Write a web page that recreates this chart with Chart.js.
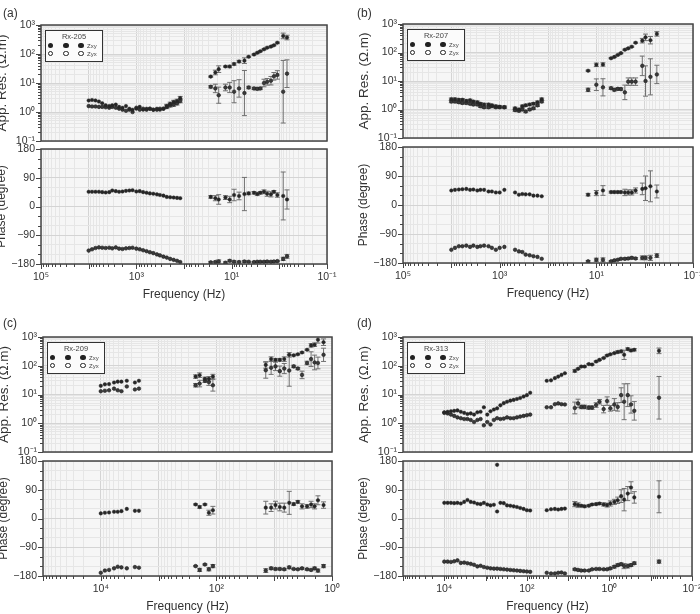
<!DOCTYPE html>
<html lang="en">
<head>
<meta charset="UTF-8">
<title>MT sounding curves Rx-205 / 207 / 209 / 313</title>
<script src="https://cdn.jsdelivr.net/npm/chart.js"></script>
<style>
  body { margin: 0; background: #fff; font-family: "Liberation Sans", Arial, sans-serif; }
  #fig { position: relative; width: 700px; height: 614px; overflow: hidden; }
  #fig canvas { position: absolute; }
  .tag { position: absolute; font-size: 12px; color: #333; }
  .legend { position: absolute; width: 58px; height: 32px; box-sizing: border-box;
            border: 1.5px solid #333; background: #fbfbfb; color: #444; }
  .legend .t { position: absolute; left: 0; right: 0; top: 1px; text-align: center; font-size: 7.5px; line-height: 9px; }
  .legend .d { position: absolute; width: 5.5px; height: 5.5px; border-radius: 50%; box-sizing: border-box; }
  .legend .f { background: #222; }
  .legend .o { border: 1.2px solid #222; background: #fff; }
  .legend .z { position: absolute; left: 41px; font-size: 6px; line-height: 6px; }
</style>
</head>
<body>
<div id="fig"></div>
<script>
// ---- axis labels ----
const rhoDecades = [-1, 0, 1, 2, 3];
const phaseTicks = [-180, -150, -120, -90, -60, -30, 0, 30, 60, 90, 120, 150, 180];
const phaseLabelTicks = [-180, -90, 0, 90, 180];
const xExpAB = [5, 3, 1, -1];
const xExpCD = [4, 2, 0, -2];
const stations = ['Rx-205', 'Rx-207', 'Rx-209', 'Rx-313'];

// ---- (a) Rx-205 ----
const freqA = [10000, 8500, 7200, 6100, 5200, 4400, 3700, 3200, 2700, 2300, 1950, 1650, 1400, 1200, 1000, 850, 720, 610, 520, 440, 370, 320, 270, 230, 195, 165, 140, 120,
  27.5, 22, 18.7, 13.5, 11, 8.9, 7, 5.4, 4.4, 3.4, 2.9, 2.5, 2.1, 1.8, 1.5, 1.3, 1.1, 0.83, 0.69];
const rhoXyA = [2.5, 2.6, 2.5, 2.3, 2.0, 1.7, 1.6, 1.7, 1.8, 1.5, 1.4, 1.6, 1.3, 1.2, 1.3, 1.5, 1.2, 1.3, 1.3, 1.2, 1.3, 1.2, 1.3, 1.6, 1.9, 2.2, 2.4, 3.0,
  16.6, 23, 30, 37, 37, 45, 55, 59, 80, 96, 110, 125, 145, 165, 180, 200, 245, 420, 370];
const rhoXyErrA = [0, 0, 0, 0, 0, 0, 0, 0, 0, 0, 0, 0, 0, 0, 0, 0, 0, 0, 0, 0, 0, 0, 0, 1.15, 1.15, 1.15, 1.15, 1.15,
  1.05, 1.2, 1.3, 1.05, 1.1, 1.1, 1.1, 1.25, 1.05, 1.05, 1.05, 1.05, 1.05, 1.05, 1.05, 1.05, 1.05, 1.25, 1.2];
const rhoYxA = [1.6, 1.55, 1.55, 1.5, 1.5, 1.45, 1.4, 1.5, 1.4, 1.3, 1.2, 1.1, 1.2, 1.0, 1.4, 1.2, 1.3, 1.2, 1.3, 1.2, 1.2, 1.3, 1.3, 1.5, 1.7, 1.8, 2.0, 2.4,
  7.4, 6.5, 3.8, 7, 7, 5, 6.5, 4.5, 7, 6.5, 6.3, 6.5, 10, 11, 12, 17, 19, 5, 21];
const rhoYxErrA = [0, 0, 0, 0, 0, 0, 0, 0, 0, 0, 0, 0, 0, 0, 0, 0, 0, 0, 0, 0, 0, 0, 0, 1.15, 1.15, 1.15, 1.15, 1.15,
  1.1, 1.4, 1.9, 1.3, 1.5, 2.4, 2.0, 6.0, 1.1, 1.1, 1.1, 1.1, 1.35, 1.3, 1.4, 1.35, 1.4, 12, 3.0];
const phsXyA = [46, 46, 46, 46, 45, 44, 45, 50, 48, 46, 47, 49, 50, 51, 47, 48, 45, 43, 41, 40, 38, 36, 34, 30, 29, 28, 27, 26,
  30, 26, 22, 28, 22, 36, 33, 39, 41, 43, 39, 43, 46, 40, 38, 46, 36, 33, 22];
const phsXyErrA = [0, 0, 0, 0, 0, 0, 0, 0, 0, 0, 0, 0, 0, 0, 0, 0, 0, 0, 0, 0, 0, 0, 0, 0, 0, 0, 0, 0,
  4, 8, 15, 6, 10, 18, 12, 52, 4, 4, 4, 4, 6, 8, 8, 4, 7, 75, 30];
const phsYxA = [-138, -134, -130, -128, -129, -130, -129, -131, -128, -132, -133, -131, -130, -129, -132, -134, -137, -140, -143, -146, -150, -153, -157, -160, -164, -167, -170, -174,
  -175, -174, -172, -176, -170, -173, -174, -172, -173, -174, -173, -173, -173, -172, -173, -172, -171, -164, -156];
const phsYxErrA = [0, 0, 0, 0, 0, 0, 0, 0, 0, 0, 0, 0, 0, 0, 0, 0, 0, 0, 0, 0, 0, 0, 0, 0, 0, 0, 0, 0,
  3, 3, 5, 3, 3, 3, 3, 3, 2, 2, 2, 2, 2, 2, 2, 2, 2, 5, 6];

// ---- (b) Rx-207 ----
const freqB = [10000, 8400, 7000, 5900, 4900, 4100, 3500, 2900, 2500, 2100, 1700, 1450, 1200, 1000, 800, 480, 400, 340, 290, 240, 200, 165, 135,
  14.8, 10, 7.3, 4.96, 4.24, 3.6, 3.1, 2.57, 2.19, 1.85, 1.54, 1.12, 0.96, 0.76, 0.56];
const rhoXyB = [2.3, 2.3, 2.2, 2.2, 2.0, 2.1, 1.9, 1.8, 1.6, 1.5, 1.5, 1.4, 1.3, 1.25, 1.2, 1.1, 1.0, 1.3, 1.4, 1.5, 1.6, 1.8, 2.3,
  23, 37, 38, 63, 70, 82, 95, 125, 140, 160, 220, 260, 340, 270, 450];
const rhoXyErrB = [1.1, 1.1, 1.1, 1.1, 1.1, 1.1, 1.1, 1.1, 1.1, 1.1, 1.1, 1.1, 1.1, 1.1, 1.1, 1.1, 1.1, 1.1, 1.1, 1.1, 1.1, 1.1, 1.1,
  1.05, 1.15, 1.15, 1.05, 1.05, 1.05, 1.05, 1.05, 1.05, 1.05, 1.05, 1.2, 1.3, 1.35, 1.2];
const rhoYxB = [1.9, 1.9, 1.8, 1.7, 1.7, 1.6, 1.5, 1.5, 1.3, 1.2, 1.2, 1.3, 1.2, 1.2, 1.2, 0.95, 0.9, 1.0, 0.85, 1.0, 1.1, 1.4, 1.9,
  4.9, 7.4, 6, 5.6, 4.9, 5.3, 5.2, 4.0, 9.5, 9.5, 9.5, 34, 10, 14, 17];
const rhoYxErrB = [1.1, 1.1, 1.1, 1.1, 1.1, 1.1, 1.1, 1.1, 1.1, 1.1, 1.1, 1.1, 1.1, 1.1, 1.1, 1.1, 1.1, 1.1, 1.1, 1.1, 1.1, 1.1, 1.1,
  1.15, 1.6, 2.0, 1.1, 1.1, 1.1, 1.1, 1.8, 1.35, 1.35, 1.35, 2.2, 3.4, 4.3, 2.1];
const phsXyB = [45, 47, 48, 49, 50, 47, 48, 45, 47, 47, 42, 42, 39, 39, 47, 39, 32, 34, 33, 33, 29, 29, 27,
  32, 37, 45, 40, 40, 40, 40, 39, 39, 39, 45, 50, 52, 58, 42];
const phsXyErrB = [0, 0, 0, 0, 0, 0, 0, 0, 0, 0, 0, 0, 0, 0, 0, 0, 0, 0, 0, 0, 0, 0, 0,
  4, 8, 15, 3, 3, 3, 3, 10, 8, 8, 8, 18, 38, 48, 20];
const phsYxB = [-139, -133, -128, -128, -126, -130, -126, -130, -128, -126, -128, -133, -139, -133, -130, -139, -144, -146, -154, -156, -159, -161, -167,
  -175, -170, -170, -175, -172, -170, -167, -167, -166, -164, -166, -164, -164, -164, -157];
const phsYxErrB = [0, 0, 0, 0, 0, 0, 0, 0, 0, 0, 0, 0, 0, 0, 0, 0, 0, 0, 0, 0, 0, 0, 0,
  3, 5, 6, 2, 2, 2, 2, 3, 3, 3, 3, 6, 6, 8, 6];

// ---- (c) Rx-209 ----
const freqC = [10000, 8500, 7200, 5900, 5100, 4400, 3550, 2570, 2190,
  229, 195, 158, 135, 115,
  14, 11.3, 9.5, 8, 6.7, 5.5, 4.6, 3.9, 3.3, 2.7, 2.3, 2.0, 1.75, 1.4];
const rhoXyC = [20, 22.5, 23, 26, 28, 28, 30, 26, 30,
  42, 47, 35, 35, 42,
  107, 170, 160, 160, 170, 240, 230, 250, 290, 360, 510, 540, 800, 660];
const rhoXyErrC = [0, 0, 0, 0, 0, 0, 0, 0, 0,
  1.15, 1.2, 1.15, 1.2, 1.2,
  1.3, 1.2, 1.1, 1.1, 1.2, 1.2, 1.05, 1.05, 1.05, 1.05, 1.15, 1.15, 1.3, 1.3];
const rhoYxC = [13, 13.5, 14, 16, 14, 13, 19, 15, 16,
  21, 24, 30, 27, 21,
  70, 85, 95, 65, 80, 68, 95, 80, 48, 125, 170, 130, 125, 240];
const rhoYxErrC = [0, 0, 0, 0, 0, 0, 0, 0, 0,
  1.15, 1.3, 1.15, 1.3, 1.6,
  1.9, 1.7, 1.4, 1.5, 1.5, 3.5, 1.1, 1.1, 1.35, 1.15, 1.8, 1.8, 1.6, 1.7];
const phsXyC = [16, 18, 19, 21, 21, 23, 30, 24, 24,
  44, 36, 44, 18, 26,
  34, 34, 42, 36, 34, 49, 45, 52, 38, 38, 44, 38, 57, 42];
const phsXyErrC = [0, 0, 0, 0, 0, 0, 0, 0, 0,
  2, 4, 2, 8, 12,
  20, 12, 12, 12, 14, 36, 4, 4, 8, 6, 10, 8, 14, 10];
const phsYxC = [-170, -163, -161, -156, -151, -153, -156, -152, -154,
  -149, -161, -144, -159, -149,
  -163, -156, -158, -158, -159, -153, -158, -159, -156, -159, -161, -156, -163, -149];
const phsYxErrC = [0, 0, 0, 0, 0, 0, 0, 0, 0,
  2, 5, 2, 5, 5,
  6, 4, 3, 3, 3, 4, 2, 2, 3, 3, 3, 4, 5, 5];

// ---- (d) Rx-313 ----
const freqD = [10000, 8300, 6900, 5750, 4800, 3980, 3300, 2750, 2290, 1900, 1580, 1320, 1100, 910, 760, 630, 525, 437, 363, 302, 251, 209, 174, 145, 120, 100, 83,
  33, 26, 21, 17.4, 14.5, 12,
  6.9, 5.75, 4.8, 4.0, 3.16, 2.63, 2.1, 1.74, 1.38, 1.14, 0.95, 0.76, 0.63, 0.52, 0.44, 0.36, 0.30, 0.25,
  0.063];
const rhoXyD = [2.4, 2.5, 2.6, 2.7, 2.8, 2.5, 2.3, 2.1, 2.2, 2.0, 2.4, 2.5, 3.6, 2.0, 2.6, 3.0, 3.3, 4.2, 5.0, 5.6, 6.1, 6.5, 7.0, 7.6, 8.5, 9.5, 11.5,
  30, 31, 37, 42, 48, 55,
  66, 78, 94, 94, 114, 110, 140, 160, 185, 228, 250, 275, 300, 315, 240, 380, 340, 360,
  330];
const rhoXyErrD = [0, 0, 0, 0, 0, 0, 0, 0, 0, 0, 0, 0, 0, 0, 0, 0, 0, 0, 0, 0, 0, 0, 0, 0, 0, 0, 0,
  0, 0, 0, 0, 0, 0,
  1.1, 1.05, 1.05, 1.05, 1.05, 1.05, 1.05, 1.05, 1.05, 1.05, 1.05, 1.05, 1.1, 1.1, 1.45, 1.1, 1.1, 1.1,
  1.25];
const rhoYxD = [2.3, 2.2, 2.0, 1.8, 1.6, 1.5, 1.4, 1.4, 1.3, 1.1, 1.3, 1.4, 0.85, 1.1, 0.9, 1.3, 1.5, 1.4, 1.45, 1.6, 1.5, 1.5, 1.6, 1.7, 1.8, 1.9, 2.0,
  3.6, 3.6, 4.6, 4.9, 4.6, 4.5,
  3.4, 4.9, 3.7, 3.7, 3.5, 3.5, 4.3, 5.6, 3.1, 5.9, 3.3, 4.5, 3.7, 9.5, 5.6, 9.5, 4.5, 2.7,
  7.7];
const rhoYxErrD = [0, 0, 0, 0, 0, 0, 0, 0, 0, 0, 0, 0, 0, 0, 0, 0, 0, 0, 0, 0, 0, 0, 0, 0, 0, 0, 0,
  0, 0, 0, 0, 0, 0,
  1.6, 1.4, 1.15, 1.15, 1.15, 1.15, 1.2, 1.2, 1.35, 1.4, 1.25, 1.6, 1.4, 1.8, 4.2, 2.5, 2.0, 2.1,
  5.5];
const phsXyD = [49, 49, 49, 48, 49, 47, 52, 58, 52, 50, 46, 45, 49, 44, 41, 43, 22, 49, 48, 41, 40, 38, 36, 33, 30, 26, 25,
  26, 29, 30, 28, 30, 31,
  45, 42, 40, 38, 40, 44, 45, 47, 44, 42, 47, 52, 57, 70, 59, 78, 97, 66,
  68];
const phsXyErrD = [0, 0, 0, 0, 0, 0, 0, 0, 0, 0, 0, 0, 0, 0, 0, 0, 0, 0, 0, 0, 0, 0, 0, 0, 0, 0, 0,
  0, 0, 0, 0, 0, 0,
  8, 7, 3, 3, 3, 3, 3, 3, 5, 6, 8, 8, 10, 20, 35, 22, 18, 18,
  50];
const phsYxD = [-135, -135, -136, -134, -131, -139, -138, -140, -142, -145, -150, -148, -152, -154, -156, -157, -157, -158, -159, -160, -161, -162, -163, -164, -165, -166, -167,
  -170, -172, -172, -170, -169, -172,
  -159, -161, -163, -163, -163, -159, -158, -158, -159, -159, -156, -151, -146, -143, -149, -149, -146, -140,
  -135];
const phsYxErrD = [0, 0, 0, 0, 0, 0, 0, 0, 0, 0, 0, 0, 0, 0, 0, 0, 0, 0, 0, 0, 0, 0, 0, 0, 0, 0, 0,
  0, 0, 0, 0, 0, 0,
  3, 3, 2, 2, 2, 2, 2, 2, 2, 2, 3, 4, 4, 4, 8, 6, 4, 4,
  5];
// stray phase value in (d)
const outFreqD = [525];
const outPhsD = [168];

// ---- styling ----
Chart.defaults.font.family = '"Liberation Sans", Arial, sans-serif';
const PLOT_BG = '#f6f6f6';
const GRID_MAJOR = '#d4d4d4';
const GRID_MINOR = '#e6e6e6';
const FRAME = '#454545';
const TEXT = '#333';

const SUP = { '-': '\u207B', '0': '\u2070', '1': '\u00B9', '2': '\u00B2', '3': '\u00B3', '4': '\u2074', '5': '\u2075' };
const pow10 = e => '10' + String(e).split('').map(c => SUP[c]).join('');
const expOf = v => Math.round(Math.log10(v));
const isDecade = v => Math.abs(Math.log10(v) - expOf(v)) < 1e-6;

function logTicks(min, max) {
  const out = [];
  for (let e = expOf(min); e <= expOf(max); e++) {
    for (let d = 1; d <= 9; d++) {
      const v = d * Math.pow(10, e);
      if (v >= min * 0.999 && v <= max * 1.001) out.push({ value: v });
    }
  }
  return out;
}

const pts = (f, v) => f.map((x, i) => ({ x: x, y: v[i] }));
const rhoBars = (v, e) => v.map((y, i) => e[i] > 1 ? [y / e[i], y * e[i]] : null);
const phsBars = (v, e) => v.map((y, i) => e[i] > 0 ? [y - e[i], y + e[i]] : null);

// plot background, frame and outward tick marks
const axisMarks = {
  id: 'axisMarks',
  beforeDraw(chart) {
    const a = chart.chartArea, ctx = chart.ctx;
    ctx.save();
    ctx.fillStyle = PLOT_BG;
    ctx.fillRect(a.left, a.top, a.right - a.left, a.bottom - a.top);
    ctx.restore();
  },
  afterDraw(chart, args, opts) {
    const a = chart.chartArea, ctx = chart.ctx;
    const ys = chart.scales.y, xs = chart.scales.x;
    ctx.save();
    ctx.strokeStyle = FRAME;
    ctx.lineWidth = 1;
    ctx.beginPath();
    ys.ticks.forEach(t => {
      const p = Math.round(ys.getPixelForValue(t.value)) + 0.5;
      const len = opts.phase ? (t.value % 90 === 0 ? 5 : 3) : (isDecade(t.value) ? 5 : 3);
      ctx.moveTo(a.left - len, p);
      ctx.lineTo(a.left, p);
    });
    if (opts.phase) {
      xs.ticks.forEach(t => {
        const p = Math.round(xs.getPixelForValue(t.value)) + 0.5;
        const len = isDecade(t.value) ? 5 : 3;
        ctx.moveTo(p, a.bottom);
        ctx.lineTo(p, a.bottom + len);
      });
    }
    ctx.stroke();
    ctx.lineWidth = 1.5;
    ctx.strokeRect(a.left, a.top, a.right - a.left, a.bottom - a.top);
    ctx.restore();
  }
};

// vertical error bars with caps
const errorBars = {
  id: 'errorBars',
  beforeDatasetsDraw(chart) {
    const a = chart.chartArea, ctx = chart.ctx;
    const xs = chart.scales.x, ys = chart.scales.y;
    ctx.save();
    ctx.beginPath();
    ctx.rect(a.left, a.top, a.right - a.left, a.bottom - a.top);
    ctx.clip();
    ctx.strokeStyle = '#707070';
    ctx.lineWidth = 1;
    chart.data.datasets.forEach(ds => {
      if (!ds.bars) return;
      ds.bars.forEach((b, i) => {
        if (!b) return;
        const px = xs.getPixelForValue(ds.data[i].x);
        const y1 = ys.getPixelForValue(b[0]), y2 = ys.getPixelForValue(b[1]);
        ctx.beginPath();
        ctx.moveTo(px, y1); ctx.lineTo(px, y2);
        ctx.moveTo(px - 2.5, y1); ctx.lineTo(px + 2.5, y1);
        ctx.moveTo(px - 2.5, y2); ctx.lineTo(px + 2.5, y2);
        ctx.stroke();
      });
    });
    ctx.restore();
  }
};

const xyStyle = { pointRadius: 1.8, pointBackgroundColor: '#262626', pointBorderColor: '#262626', pointBorderWidth: 0.4 };
const yxStyle = { pointRadius: 1.8, pointBackgroundColor: '#3a3a3a', pointBorderColor: '#1a1a1a', pointBorderWidth: 0.6 };

const panels = [
  { tag: '(a)', tagX: 3, tagY: 6, x0: 41, x1: 327, r0: 25, r1: 141, p0: 149, p1: 264, xMin: 0.1, xMax: 1e5, xExp: xExpAB,
    f: freqA, rxy: rhoXyA, rxyE: rhoXyErrA, ryx: rhoYxA, ryxE: rhoYxErrA, pxy: phsXyA, pxyE: phsXyErrA, pyx: phsYxA, pyxE: phsYxErrA },
  { tag: '(b)', tagX: 357, tagY: 6, x0: 403, x1: 693, r0: 24, r1: 138, p0: 147, p1: 263, xMin: 0.1, xMax: 1e5, xExp: xExpAB,
    f: freqB, rxy: rhoXyB, rxyE: rhoXyErrB, ryx: rhoYxB, ryxE: rhoYxErrB, pxy: phsXyB, pxyE: phsXyErrB, pyx: phsYxB, pyxE: phsYxErrB },
  { tag: '(c)', tagX: 3, tagY: 316, x0: 43, x1: 332, r0: 337, r1: 452, p0: 461, p1: 576, xMin: 1, xMax: 1e5, xExp: xExpCD,
    f: freqC, rxy: rhoXyC, rxyE: rhoXyErrC, ryx: rhoYxC, ryxE: rhoYxErrC, pxy: phsXyC, pxyE: phsXyErrC, pyx: phsYxC, pyxE: phsYxErrC },
  { tag: '(d)', tagX: 357, tagY: 316, x0: 403, x1: 692, r0: 337, r1: 452, p0: 461, p1: 576, xMin: 0.01, xMax: 1e5, xExp: xExpCD,
    f: freqD, rxy: rhoXyD, rxyE: rhoXyErrD, ryx: rhoYxD, ryxE: rhoYxErrD, pxy: phsXyD, pxyE: phsXyErrD, pyx: phsYxD, pyxE: phsYxErrD,
    extra: { f: outFreqD, v: outPhsD } }
];

const fig = document.getElementById('fig');
const YAXIS_W = 47, PAD_T = 8;

function addPlot(p, phase) {
  const top = phase ? p.p0 : p.r0, bot = phase ? p.p1 : p.r1;
  const padR = phase ? 18 : 8, padB = phase ? 0 : 8, xH = phase ? 38 : 0;
  const cv = document.createElement('canvas');
  cv.width = YAXIS_W + (p.x1 - p.x0) + padR;
  cv.height = PAD_T + (bot - top) + padB + xH;
  cv.style.left = (p.x0 - YAXIS_W) + 'px';
  cv.style.top = (top - PAD_T) + 'px';
  fig.appendChild(cv);

  let datasets;
  if (phase) {
    datasets = [
      Object.assign({ label: 'Zxy', data: pts(p.f, p.pxy), bars: phsBars(p.pxy, p.pxyE) }, xyStyle),
      Object.assign({ label: 'Zyx', data: pts(p.f, p.pyx), bars: phsBars(p.pyx, p.pyxE) }, yxStyle)
    ];
    if (p.extra) datasets.push(Object.assign({ label: 'Zxy', data: pts(p.extra.f, p.extra.v) }, xyStyle));
  } else {
    datasets = [
      Object.assign({ label: 'Zxy', data: pts(p.f, p.rxy), bars: rhoBars(p.rxy, p.rxyE) }, xyStyle),
      Object.assign({ label: 'Zyx', data: pts(p.f, p.ryx), bars: rhoBars(p.ryx, p.ryxE) }, yxStyle)
    ];
  }

  const yScale = phase ? {
    type: 'linear', min: -180, max: 180,
    afterBuildTicks: s => { s.ticks = phaseTicks.map(v => ({ value: v })); },
    ticks: { autoSkip: false, padding: 6, color: TEXT, font: { size: 10.5 },
      callback: v => phaseLabelTicks.includes(v) ? String(v).replace('-', '\u2212') : '' },
    grid: { drawTicks: false, color: c => (c.tick && c.tick.value % 90 === 0) ? GRID_MAJOR : GRID_MINOR },
    title: { display: true, text: 'Phase (degree)', color: TEXT, font: { size: 12 }, padding: 0 }
  } : {
    type: 'logarithmic', min: 0.1, max: 1000,
    afterBuildTicks: s => { s.ticks = logTicks(0.1, 1000); },
    ticks: { autoSkip: false, padding: 6, color: TEXT, font: { size: 10.5 },
      callback: v => (isDecade(v) && rhoDecades.includes(expOf(v))) ? pow10(expOf(v)) : '' },
    grid: { drawTicks: false, color: c => (c.tick && isDecade(c.tick.value)) ? GRID_MAJOR : GRID_MINOR },
    title: { display: true, text: 'App. Res. (\u03A9.m)', color: TEXT, font: { size: 13.5 }, padding: 0 }
  };
  yScale.border = { display: false };
  yScale.afterFit = s => { s.width = YAXIS_W; s.paddingTop = 0; s.paddingBottom = 0; };

  const xScale = {
    type: 'logarithmic', reverse: true, min: p.xMin, max: p.xMax,
    afterBuildTicks: s => { s.ticks = logTicks(p.xMin, p.xMax); },
    ticks: { autoSkip: false, maxRotation: 0, minRotation: 0, padding: 7, color: TEXT, font: { size: 10.5 },
      callback: v => (phase && isDecade(v) && p.xExp.includes(expOf(v))) ? pow10(expOf(v)) : '' },
    grid: { drawTicks: false, color: c => (c.tick && isDecade(c.tick.value)) ? GRID_MAJOR : GRID_MINOR },
    border: { display: false },
    title: { display: phase, text: 'Frequency (Hz)', color: TEXT, font: { size: 12 }, padding: 0 },
    afterFit: s => { s.height = xH; s.paddingLeft = 0; s.paddingRight = 0; }
  };

  new Chart(cv, {
    type: 'scatter',
    data: { datasets: datasets },
    options: {
      responsive: false, animation: false, events: [],
      layout: { autoPadding: false, padding: { left: 0, top: PAD_T, right: padR, bottom: padB } },
      plugins: { legend: { display: false }, tooltip: { enabled: false }, axisMarks: { phase: phase } },
      scales: { x: xScale, y: yScale }
    },
    plugins: [axisMarks, errorBars]
  });
}

function addLegend(name, x, y) {
  const box = document.createElement('div');
  box.className = 'legend';
  box.style.left = x + 'px';
  box.style.top = y + 'px';
  let html = '<div class="t">' + name + '</div>';
  [1.5, 17, 32].forEach(l => {
    html += '<span class="d f" style="left:' + l + 'px;top:11.5px"></span>';
    html += '<span class="d o" style="left:' + l + 'px;top:19.5px"></span>';
  });
  html += '<span class="z" style="top:11.5px">Zxy</span><span class="z" style="top:19.5px">Zyx</span>';
  box.innerHTML = html;
  fig.appendChild(box);
}

panels.forEach((p, i) => {
  addPlot(p, false);
  addPlot(p, true);
  addLegend(stations[i], p.x0 + 4, p.r0 + 5);
  const t = document.createElement('div');
  t.className = 'tag';
  t.style.left = p.tagX + 'px';
  t.style.top = p.tagY + 'px';
  t.textContent = p.tag;
  fig.appendChild(t);
});
</script>
</body>
</html>
